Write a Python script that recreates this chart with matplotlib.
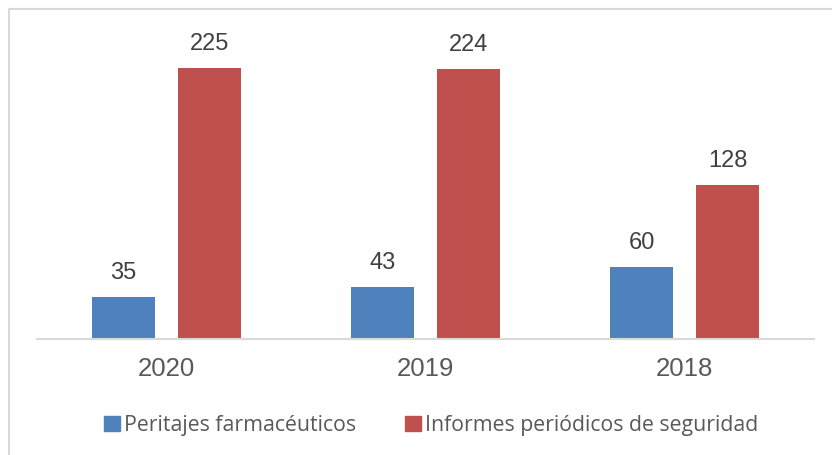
import matplotlib.pyplot as plt
from matplotlib.lines import Line2D
from matplotlib.patches import Patch
import numpy as np

years = ['2020', '2019', '2018']
peritajes = [35, 43, 60]
informes = [225, 224, 128]
series_names = ['Peritajes farmacéuticos', 'Informes periódicos de seguridad']

blue = '#4F81BD'
red = '#C0504D'
W, H = 832, 456

fig = plt.figure(figsize=(W / 100, H / 100), dpi=100)
# axes area in pixels: x 37..814, baseline at y=340
ax = fig.add_axes([37 / W, 1 - 340 / H, (814 - 37) / W, (340 - 39) / H])

x = np.arange(len(years))
bw = 0.247
off = 0.166
b1 = ax.bar(x - off, peritajes, bw, color=blue)
b2 = ax.bar(x + off, informes, bw, color=red)

for bars, vals in ((b1, peritajes), (b2, informes)):
    for rect, v in zip(bars, vals):
        ax.annotate(str(v), (rect.get_x() + rect.get_width() / 2, v),
                    xytext=(0, 10), textcoords='offset points',
                    ha='center', va='bottom', fontsize=17,
                    family='Liberation Sans', color='#404040')

ax.set_xlim(-0.5, 2.5)
ax.set_ylim(0, 250)
ax.set_xticks(x)
ax.set_xticklabels(years, fontsize=18.5, family='Liberation Sans', color='#595959')
ax.tick_params(axis='x', length=0, pad=12.5)
ax.set_yticks([])
for s in ['top', 'right', 'left']:
    ax.spines[s].set_visible(False)
ax.spines['bottom'].set_color('#D9D9D9')
ax.spines['bottom'].set_linewidth(1.5)

handles = [Patch(color=blue), Patch(color=red)]
fig.legend(handles, series_names, loc='center', bbox_to_anchor=(431 / W, 1 - 426 / H),
           ncol=2, frameon=False, handlelength=0.75, handleheight=0.7,
           handletextpad=0.2, columnspacing=2.3,
           prop={'family': 'Open Sans', 'size': 15.3}, labelcolor='#595959')

# chart border (top and left edges only visible)
fig.add_artist(Line2D([8.5 / W, 8.5 / W, 1], [0, 1 - 10 / H, 1 - 10 / H],
                      transform=fig.transFigure, color='#D9D9D9', lw=1.5))

fig.savefig('out.png', dpi=100)
